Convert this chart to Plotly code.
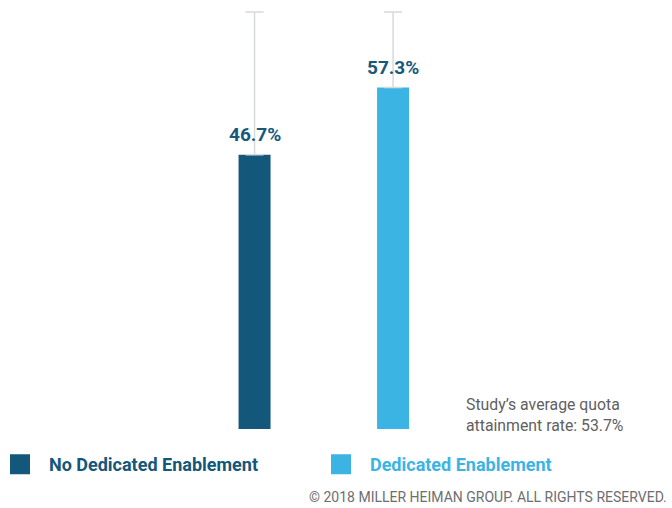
import plotly.graph_objects as go

categories = ["No Dedicated Enablement", "Dedicated Enablement"]
values = [46.7, 57.3]
upper_bounds = [69.2, 69.2]
value_labels = ["46.7%", "57.3%"]
study_average = 53.7
colors = ["#13577a", "#3bb4e4"]
legend_widths = [276, 200]

FONT = "Roboto"
fig = go.Figure()

for i, (cat, val, ub, col) in enumerate(zip(categories, values, upper_bounds, colors)):
    fig.add_trace(go.Bar(
        x=[i], y=[val], width=0.231,
        marker=dict(color=col, line=dict(width=0)),
        error_y=dict(type="data", symmetric=False, array=[ub - val], arrayminus=[0],
                     color="#d6dadd", thickness=1.5, width=9),
        showlegend=False, hoverinfo="skip",
    ))
    fig.add_annotation(x=i, y=val, text=f"<b>{value_labels[i]}</b>", showarrow=False,
                       yanchor="bottom", yshift=7,
                       font=dict(family=FONT, size=19, color="#17597c"))
    # legend entry
    fig.add_trace(go.Scatter(
        x=[None], y=[None], mode="markers",
        marker=dict(symbol="square", size=16, color=col, line=dict(color=col, width=4)),
        name=f"<b><span style='color:{col}'>\u00a0\u00a0{cat}</span></b>",
        legendwidth=legend_widths[i],
        hoverinfo="skip",
    ))

fig.add_annotation(xref="paper", yref="paper", x=0.7163, y=0.033, xanchor="left", yanchor="middle",
                   align="left", showarrow=False,
                   text=f"Study\u2019s average quota<br>attainment rate: {study_average}%",
                   font=dict(family=FONT, size=15.8, color="#5f6062"))
fig.add_annotation(xref="paper", yref="paper", x=1.062, y=-0.160, xanchor="right", yanchor="middle",
                   showarrow=False,
                   text="\u00a9 2018 MILLER HEIMAN GROUP. ALL RIGHTS RESERVED.",
                   font=dict(family=FONT, size=14, color="#6d6e71"))

fig.update_layout(
    width=672, height=508,
    margin=dict(l=40, r=40, t=5, b=79),
    paper_bgcolor="white", plot_bgcolor="white",
    font=dict(family=FONT, size=18),
    xaxis=dict(range=[-1.549, 2.725], visible=False, fixedrange=True),
    yaxis=dict(range=[3.5, 70.3], visible=False, fixedrange=True),
    showlegend=True,
    legend=dict(orientation="h", xref="container", yref="container", x=0, y=0.0856,
                xanchor="left", yanchor="middle", entrywidth=276, entrywidthmode="pixels",
                font=dict(family=FONT, size=18), bgcolor="rgba(0,0,0,0)"),
)

fig.write_html("out.html", config={"displayModeBar": False},
               post_script="document.body.style.margin='0';")
